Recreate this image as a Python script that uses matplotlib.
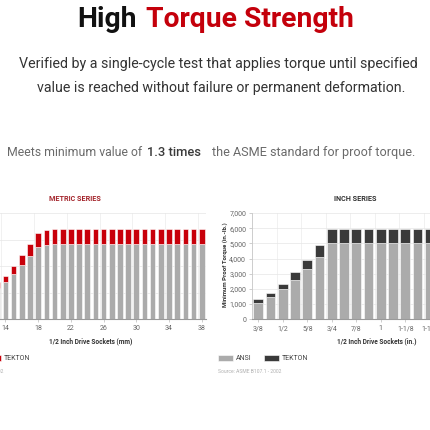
import numpy as np
import matplotlib
matplotlib.use('Agg')
import matplotlib.pyplot as plt

plt.rcParams['font.family'] = ['Roboto', 'DejaVu Sans']

# Metric series (N·m), 1/2 inch drive sockets
metric_sizes = list(range(10, 39))
metric_ansi = [150, 170, 195, 235, 284, 340, 405, 475, 543, 558] + [566] * 19
metric_tekton = [178, 202, 232, 280, 329, 402, 483, 566, 649, 669] + [679] * 19
metric_tick_sizes = [14, 18, 22, 26, 30, 34, 38]

# Inch series (in.-lb.)
inch_sizes = ['3/8', '7/16', '1/2', '9/16', '5/8', '11/16', '3/4', '13/16', '7/8',
              '15/16', '1', '1-1/16', '1-1/8', '1-3/16', '1-1/4', '1-5/16', '1-3/8',
              '1-7/16', '1-1/2']
inch_ansi = [1100, 1500, 2000, 2600, 3300, 4100] + [5000] * 13
inch_tekton = [1320, 1760, 2350, 3100, 3920, 4880] + [5950] * 13
inch_tick_labels = ['3/8', '1/2', '5/8', '3/4', '7/8', '1', '1-1/8', '1-1/4', '1-3/8', '1-1/2']
inch_yticks = [0, 1000, 2000, 3000, 4000, 5000, 6000, 7000]
inch_yticklabels = ['0', '1,000', '2,000', '3,000', '4,000', '5,000', '6,000', '7,000']
metric_yticks = [0, 200, 400, 600, 800]

RED = '#c8000a'
DARK = '#3a3a3a'
GRAY = '#ababab'

W = H = 430.0
fig = plt.figure(figsize=(4.3, 4.3), dpi=100)
fig.patch.set_facecolor('white')


def px(x, y):
    # pixel position (from top-left) -> figure fraction
    return x / W, 1 - y / H


# ---- header texts ----
fig.text(*px(137, 26.7), 'High', ha='right', va='baseline', fontsize=20.3,
         fontweight='bold', color='#111111')
fig.text(*px(146.2, 26.7), 'Torque Strength', ha='left', va='baseline', fontsize=20.3,
         fontweight='bold', color='#c4000b')

fig.text(*px(218.5, 68.3), 'Verified by a single-cycle test that applies torque until specified',
         ha='center', va='baseline', fontsize=10.3, color='#333333')
fig.text(*px(221.5, 91.7), 'value is reached without failure or permanent deformation.',
         ha='center', va='baseline', fontsize=10.2, color='#333333')

fig.text(*px(141.7, 156), 'Meets minimum value of', ha='right', va='baseline',
         fontsize=8.8, color='#6a6a6a')
fig.text(*px(146.7, 156), '1.3 times', ha='left', va='baseline',
         fontsize=9.3, color='#3a3a3a', fontweight='medium')
fig.text(*px(212.5, 156), 'the ASME standard for proof torque.', ha='left', va='baseline',
         fontsize=9.1, color='#6a6a6a')


def style_axes(ax):
    for s in ['top', 'right']:
        ax.spines[s].set_visible(False)
    ax.spines['bottom'].set_color('#9a9a9a')
    ax.spines['bottom'].set_linewidth(0.8)
    ax.spines['left'].set_color('#c8c8c8')
    ax.spines['left'].set_linewidth(0.6)
    ax.tick_params(axis='both', which='major', labelsize=5.0, labelcolor='#666666',
                   color='#bbbbbb', length=2, width=0.5, pad=2.3)
    ax.tick_params(axis='x', which='minor', length=0)
    ax.grid(axis='y', which='major', color='#e6e6e6', linewidth=0.5)
    ax.grid(axis='x', which='minor', color='#ececec', linewidth=0.5)
    ax.set_axisbelow(True)


bottom = 319.3
height = 106.3

# ---- metric chart ----
ax1 = fig.add_axes([-31.3 / W, (H - bottom) / H, 237.1 / W, height / H])
x1 = np.arange(len(metric_sizes))
ansi1 = np.array(metric_ansi)
tek1 = np.array(metric_tekton)
b_ansi1 = ax1.bar(x1, ansi1, width=0.69, color=GRAY, edgecolor='white', linewidth=0.4, label='ANSI')
b_tek1 = ax1.bar(x1, tek1 - ansi1, bottom=ansi1, width=0.69, color=RED, edgecolor='white',
                 linewidth=0.4, label='TEKTON')
ax1.set_xlim(-0.5, len(metric_sizes) - 0.5)
ax1.set_ylim(0, 800)
ax1.set_yticks(metric_yticks)
tick_idx1 = [metric_sizes.index(s) for s in metric_tick_sizes]
ax1.set_xticks(tick_idx1)
ax1.set_xticklabels([str(s) for s in metric_tick_sizes])
ax1.set_xticks([i - 0.5 for i in tick_idx1], minor=True)
style_axes(ax1)
ax1.text((75 + 31.3) / 237.1, 1 + 14 / height, 'METRIC SERIES', transform=ax1.transAxes,
         ha='center', va='center', fontsize=5.2, fontweight='bold', color='#a3232a')
ax1.text((90.5 + 31.3) / 237.1, -21.7 / height, '1/2 Inch Drive Sockets (mm)',
         transform=ax1.transAxes, ha='center', va='center', fontsize=4.7,
         fontweight='bold', color='#333333')

# ---- inch chart ----
ax2 = fig.add_axes([252.2 / W, (H - bottom) / H, 232.75 / W, height / H])
x2 = np.arange(len(inch_sizes))
ansi2 = np.array(inch_ansi)
tek2 = np.array(inch_tekton)
b_ansi2 = ax2.bar(x2, ansi2, width=0.79, color=GRAY, edgecolor='white', linewidth=0.4, label='ANSI')
b_tek2 = ax2.bar(x2, tek2 - ansi2, bottom=ansi2, width=0.79, color=DARK, edgecolor='white',
                 linewidth=0.4, label='TEKTON')
ax2.set_xlim(-0.5, len(inch_sizes) - 0.5)
ax2.set_ylim(0, 7000)
ax2.set_yticks(inch_yticks)
ax2.set_yticklabels(inch_yticklabels)
tick_idx2 = [inch_sizes.index(s) for s in inch_tick_labels]
ax2.set_xticks(tick_idx2)
ax2.set_xticklabels(inch_tick_labels)
ax2.set_xticks([i - 0.5 for i in tick_idx2], minor=True)
style_axes(ax2)
ax2.text((355 - 252.2) / 232.75, 1 + 14 / height, 'INCH SERIES', transform=ax2.transAxes,
         ha='center', va='center', fontsize=5.2, fontweight='bold', color='#333333')
ax2.text((376.6 - 252.2) / 232.75, -21.7 / height, '1/2 Inch Drive Sockets (in.)',
         transform=ax2.transAxes, ha='center', va='center', fontsize=4.7,
         fontweight='bold', color='#333333')
ax2.text((225 - 252.2) / 232.75, (bottom - 265) / height, 'Minimum Proof Torque (in.-lb.)',
         transform=ax2.transAxes, ha='center', va='center', rotation=90, fontsize=4.3,
         fontweight='bold', color='#333333')

# ---- legends and source notes ----
for ax, handles, lx in [(ax1, [b_ansi1, b_tek1], 218 - 278.5), (ax2, [b_ansi2, b_tek2], 218)]:
    leg = ax.legend(handles=handles, labels=['ANSI', 'TEKTON'], ncol=2, frameon=False,
                    loc='center left', bbox_to_anchor=px(lx, 358.5),
                    bbox_transform=fig.transFigure, fontsize=5, handlelength=2.2,
                    handleheight=0.95, handletextpad=0.4, columnspacing=1.75,
                    borderpad=0, borderaxespad=0)
    for t in leg.get_texts():
        t.set_color('#444444')
    fig.text(*px(lx, 371.5), 'Source: ASME B107.1 - 2002', ha='left', va='center',
             fontsize=3.6, color='#b0b0b0')

fig.savefig('out.png', dpi=100, facecolor='white')
